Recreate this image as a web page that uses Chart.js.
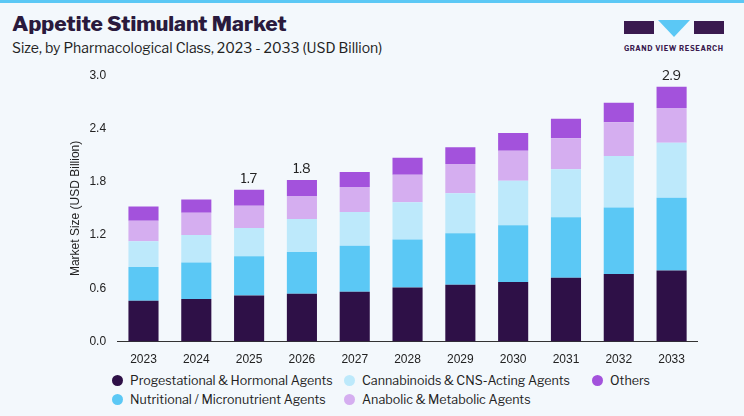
<!DOCTYPE html>
<html><head><meta charset="utf-8">
<script src="https://cdn.jsdelivr.net/npm/chart.js@4"></script>
<style>
body{margin:0;width:744px;height:416px;background:#f3f8fc;font-family:"Libre Franklin","Inter",sans-serif;overflow:hidden;position:relative;border-top:3px solid #5bc8f5;box-sizing:border-box}
#t{position:absolute;left:12px;top:8px;font-size:21px;font-weight:800;color:#2a1a3d}
#s{position:absolute;left:12px;top:36px;font-size:14px;color:#222}
#logo{position:absolute;left:624px;top:14px;width:100px}
#wrap{position:absolute;left:64px;top:62px;width:634px;height:305px}
#leg{position:absolute;left:112px;top:370px;font-size:12.5px;color:#222;display:grid;grid-template-columns:232px 248px 120px;row-gap:4px}
#leg span{display:flex;align-items:center}
#leg i{width:11px;height:11px;border-radius:50%;margin-right:7px;display:inline-block}
</style></head><body>
<div id="t">Appetite Stimulant Market</div>
<div id="s">Size, by Pharmacological Class, 2023 - 2033 (USD Billion)</div>
<div id="logo">
<svg width="100" height="22"><rect x="0" y="4" width="30" height="13" fill="#3a1a4f"/><polygon points="34,3 66,3 50,20" fill="#5bc8f5"/><rect x="70" y="4" width="30" height="13" fill="#3a1a4f"/></svg>
<div style="font-size:7px;font-weight:700;color:#3a1a4f;letter-spacing:0.6px;margin-top:1px">GRAND VIEW RESEARCH</div>
</div>
<div id="wrap"><canvas id="c"></canvas></div>
<div id="leg"></div>
<script>
var years = ['2023','2024','2025','2026','2027','2028','2029','2030','2031','2032','2033'];
var progestational = [0.46,0.48,0.52,0.54,0.56,0.61,0.64,0.67,0.72,0.76,0.80];
var nutritional = [0.38,0.41,0.44,0.47,0.52,0.54,0.58,0.64,0.68,0.75,0.82];
var cannabinoids = [0.29,0.31,0.32,0.37,0.38,0.42,0.45,0.50,0.54,0.58,0.62];
var anabolic = [0.23,0.25,0.25,0.26,0.28,0.31,0.33,0.34,0.35,0.38,0.39];
var others = [0.16,0.15,0.18,0.18,0.17,0.19,0.19,0.20,0.22,0.22,0.24];
var totalLabels = {2: '1.7', 3: '1.8', 10: '2.9'};

var series = [
  {label: 'Progestational & Hormonal Agents', data: progestational, backgroundColor: '#2e1047'},
  {label: 'Nutritional / Micronutrient Agents', data: nutritional, backgroundColor: '#5bc8f5'},
  {label: 'Cannabinoids & CNS-Acting Agents', data: cannabinoids, backgroundColor: '#bde9fb'},
  {label: 'Anabolic & Metabolic Agents', data: anabolic, backgroundColor: '#d5aef0'},
  {label: 'Others', data: others, backgroundColor: '#a352dc'}
];
series.forEach(function (d) { d.barPercentage = 0.57; d.categoryPercentage = 1; });

var order = [0, 2, 4, 1, 3];
document.getElementById('leg').innerHTML = order.map(function (i) {
  return '<span><i style="background:' + series[i].backgroundColor + '"></i>' + series[i].label + '</span>';
}).join('');

var totals = {
  id: 'totals',
  afterDatasetsDraw: function (chart) {
    var ctx = chart.ctx, meta = chart.getDatasetMeta(4);
    ctx.save();
    ctx.font = '13px "Libre Franklin", Inter, sans-serif';
    ctx.fillStyle = '#222';
    ctx.textAlign = 'center';
    Object.keys(totalLabels).forEach(function (k) {
      var bar = meta.data[k];
      ctx.fillText(totalLabels[k], bar.x, bar.y - 7);
    });
    ctx.restore();
  }
};

new Chart(document.getElementById('c'), {
  type: 'bar',
  data: {labels: years, datasets: series},
  plugins: [totals],
  options: {
    responsive: true, maintainAspectRatio: false, animation: false,
    layout: {padding: {top: 8}},
    plugins: {legend: {display: false}, tooltip: {enabled: false}},
    scales: {
      x: {stacked: true, grid: {display: false}, border: {color: '#333'},
          ticks: {color: '#222', font: {size: 12}}},
      y: {stacked: true, min: 0, max: 3, grid: {display: false}, border: {display: false},
          ticks: {stepSize: 0.6, color: '#222', font: {size: 12}, callback: function (v) { return v.toFixed(1); }},
          title: {display: true, text: 'Market Size (USD Billion)', color: '#222', font: {size: 12}}}
    }
  }
});
</script>
</body></html>
